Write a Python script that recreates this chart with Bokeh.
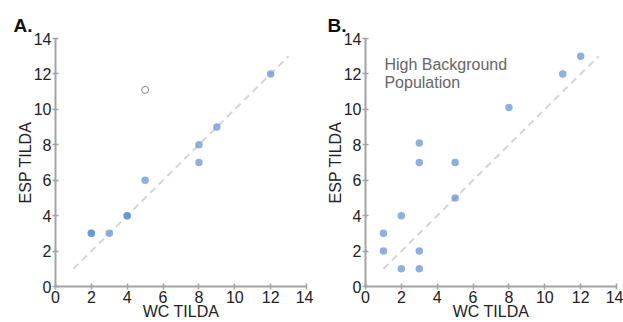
from bokeh.plotting import figure
from bokeh.layouts import row
from bokeh.models import Label, Range1d, Title
from bokeh.embed import file_html
from bokeh.resources import INLINE

# Panel A data (duplicates appear darker through overlap)
a_wc = [2, 2, 3, 4, 4, 5, 8, 8, 9, 12]
a_esp = [3, 3, 3, 4, 4, 6, 8, 7, 9, 12]
a_out_wc = [5]
a_out_esp = [11.1]

# Panel B data
b_wc = [1, 1, 2, 2, 3, 3, 3, 3, 5, 5, 8, 11, 12]
b_esp = [3, 2, 4, 1, 1, 2, 7, 8.1, 7, 5, 10.1, 12, 13]

ref_x = [1, 13]
ref_y = [1, 13]
ticks = [0, 2, 4, 6, 8, 10, 12, 14]

FONT = "Liberation Sans"
AXIS_COL = "#a3a3a3"
PT_COL = "#5e8fd0"


def make_panel(letter, wc, esp, width, left, right, letter_dx=-42):
    p = figure(width=width, height=322, output_backend="svg", toolbar_location=None,
               x_range=Range1d(0, 14), y_range=Range1d(0, 14),
               min_border_left=left, min_border_right=right,
               min_border_top=38, min_border_bottom=36)
    p.outline_line_color = None
    p.grid.visible = False
    p.background_fill_color = "white"
    p.border_fill_color = "white"
    for ax in (p.xaxis[0], p.yaxis[0]):
        ax.ticker = ticks
        ax.axis_line_color = AXIS_COL
        ax.axis_line_width = 2
        ax.major_tick_line_color = AXIS_COL
        ax.major_tick_line_width = 1.5
        ax.major_tick_in = 3
        ax.major_tick_out = 3
        ax.minor_tick_line_color = None
        ax.major_label_text_font = FONT
        ax.major_label_text_font_size = "16px"
        ax.major_label_text_color = "#222222"
        ax.major_label_standoff = 1
        ax.axis_label_text_font = FONT
        ax.axis_label_text_font_size = "16px"
        ax.axis_label_text_font_style = "normal"
        ax.axis_label_text_color = "#222222"
    p.yaxis.axis_label = "ESP TILDA"
    p.yaxis.axis_label_standoff = -3
    p.xaxis.axis_label = "WC TILDA"
    p.xaxis.axis_label_standoff = -3

    p.line(ref_x, ref_y, line_color="#d4d4d4", line_width=2, line_dash="7 5")
    p.scatter(wc, esp, size=7.5, fill_color=PT_COL, fill_alpha=0.7, line_color=None)

    t = Title(text=letter, align="left", offset=letter_dx, standoff=5,
              text_font=FONT, text_font_size="19px", text_font_style="bold",
              text_color="#111111")
    p.add_layout(t, "above")
    return p


pa = make_panel("A.", a_wc, a_esp, 313, 55, 7, letter_dx=-42)
pa.scatter(a_out_wc, a_out_esp, size=7, fill_color="white", line_color="#888888", line_width=1)

pb = make_panel("B.", b_wc, b_esp, 310, 52, 7, letter_dx=-38)
pb.add_layout(Label(x=1, y=12.55, x_offset=1, text="High Background", text_baseline="alphabetic",
                    text_font=FONT, text_font_size="16px", text_color="#666666"))
pb.add_layout(Label(x=1, y=11.5, x_offset=1, text="Population", text_baseline="alphabetic",
                    text_font=FONT, text_font_size="16px", text_color="#666666"))

layout = row(pa, pb)
open("out.html", "w").write(file_html(layout, INLINE))
